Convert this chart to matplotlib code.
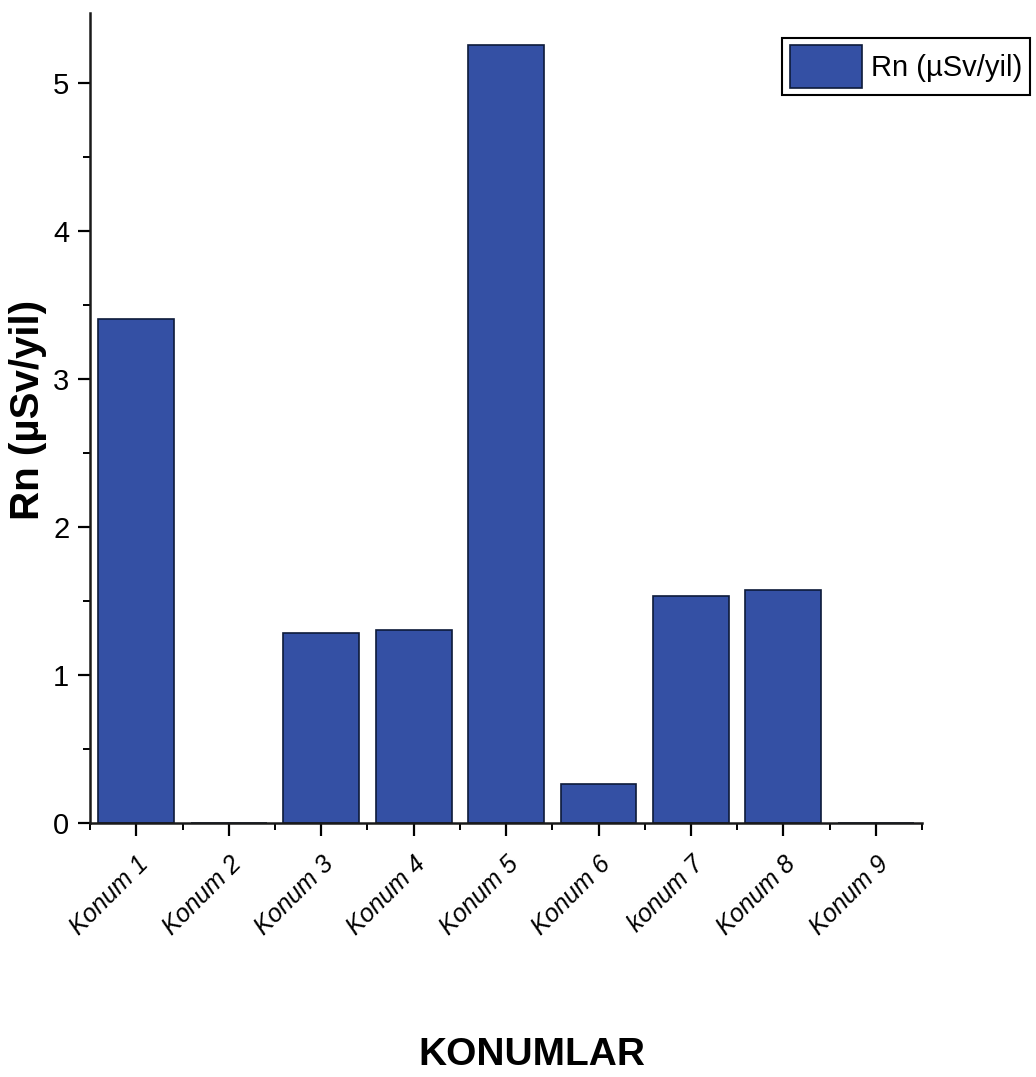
import matplotlib.pyplot as plt
from matplotlib.ticker import MultipleLocator, FixedLocator

# -----------------------------
# DATI
# -----------------------------
konumlar = ["Konum 1", "Konum 2", "Konum 3", "Konum 4", "Konum 5",
            "Konum 6", "konum 7", "Konum 8", "Konum 9"]
rn_values = [3.40, 0.0, 1.28, 1.30, 5.25, 0.26, 1.53, 1.57, 0.0]
series_label = "Rn (µSv/yil)"

BAR_COLOR = "#3450a4"
EDGE_COLOR = "#0d1a3a"
FONT = "Liberation Sans"

# -----------------------------
# GRAFICO
# -----------------------------
fig = plt.figure(figsize=(10.36, 10.77), dpi=100)
ax = fig.add_axes([0.087, 0.236, 0.803, 0.752])

x = list(range(1, len(konumlar) + 1))
bars = ax.bar(x, rn_values, width=0.82, color=BAR_COLOR,
              edgecolor=EDGE_COLOR, linewidth=1.2, label=series_label)

ax.set_xlim(0.5, 9.5)
ax.set_ylim(0, 5.47)

ax.spines["top"].set_visible(False)
ax.spines["right"].set_visible(False)
for s in ("left", "bottom"):
    ax.spines[s].set_linewidth(1.8)
    ax.spines[s].set_color("#1a1a1a")

ax.set_xticks(x)
ax.set_xticklabels(konumlar, rotation=45, ha="right", rotation_mode="anchor",
                   fontsize=18, fontstyle="italic", family=FONT)
ax.xaxis.set_minor_locator(FixedLocator([i + 0.5 for i in range(0, 10)]))
ax.set_yticks([0, 1, 2, 3, 4, 5])
ax.set_yticklabels(["0", "1", "2", "3", "4", "5"], fontsize=21, family=FONT)
ax.yaxis.set_minor_locator(MultipleLocator(0.5))

ax.tick_params(axis="both", which="major", direction="out", length=9, width=1.6)
ax.tick_params(axis="x", which="major", pad=12)
ax.tick_params(axis="y", which="major", pad=6)
ax.tick_params(axis="both", which="minor", direction="out", length=5, width=1.4)

ax.set_ylabel(series_label, fontsize=29, fontweight="bold", family=FONT)
ax.yaxis.set_label_coords(-0.052, 0.51)
fig.text(0.513, 0.004, "KONUMLAR", ha="center", va="bottom",
         fontsize=28, fontweight="bold", family=FONT)

leg = fig.legend(handles=[bars], labels=[series_label], loc="upper right",
                 bbox_to_anchor=(0.994, 0.965), fancybox=False, framealpha=1,
                 edgecolor="black", prop={"family": FONT, "size": 21},
                 handlelength=2.5, handleheight=1.9, borderpad=0.25,
                 borderaxespad=0.0, handletextpad=0.3)
leg.get_frame().set_linewidth(1.5)

fig.savefig("out.png", dpi=100)
